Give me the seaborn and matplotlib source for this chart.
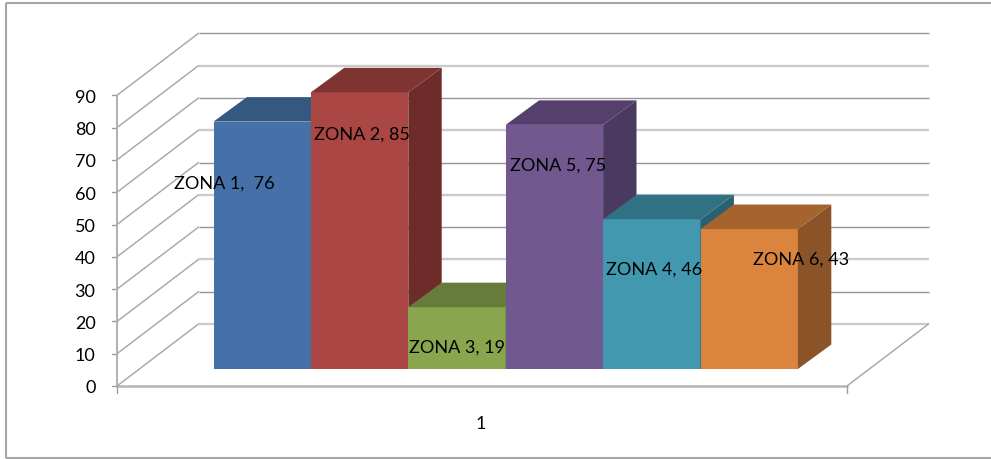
import pandas as pd
import matplotlib
matplotlib.use("Agg")
import matplotlib.pyplot as plt
from matplotlib.patches import Polygon
import seaborn as sns

# values in the order the bars stand in the chart
zonas = ["ZONA 1", "ZONA 2", "ZONA 3", "ZONA 5", "ZONA 4", "ZONA 6"]
valores = [76, 85, 19, 75, 46, 43]
etiquetas = ["ZONA 1,  76", "ZONA 2, 85", "ZONA 3, 19", "ZONA 5, 75", "ZONA 4, 46", "ZONA 6, 43"]
y_ticks = [0, 10, 20, 30, 40, 50, 60, 70, 80, 90]
categoria = "1"

colores_frente = ["#4571A8", "#AA4643", "#89A54E", "#71588F", "#4198AF", "#DB843D"]
colores_arriba = ["#34587F", "#803432", "#677C3A", "#553F6C", "#317184", "#A5632D"]
colores_lado = ["#2C4A6C", "#6D2C2A", "#576932", "#4A3A5F", "#2A6171", "#8A5428"]

# pixel geometry of the fake 3D box, measured on the reference
W, H = 991, 460
BAR_W = 97.4
BAR0_CENTER = 262.2
BASE_PX = 370
PX_PER_UNIT = 3.255
WALL_PX_PER_UNIT = 3.23
AXIS_X, AXIS_Y0 = 117, 387
RIGHT_X = 847
DEPTH_X, DEPTH_Y = 81.5, 62
BAR_DX, BAR_DY = 33.4, 24.5


def xd(px):
    return (px - BAR0_CENTER) / BAR_W


def yd(py):
    return (BASE_PX - py) / PX_PER_UNIT


sns.set_theme(style="white")
plt.rcParams["font.family"] = ["Lato", "DejaVu Sans"]

fig = plt.figure(figsize=(W / 100, H / 100), dpi=100)
ax = fig.add_axes([0, 0, 1, 1])

df = pd.DataFrame({"zona": zonas, "valor": valores})
sns.barplot(data=df, x="zona", y="valor", hue="zona", order=zonas, hue_order=zonas,
            palette=colores_frente, saturation=1, width=1, legend=False, ax=ax)

ax.set_xlim(xd(0), xd(W))
ax.set_ylim(yd(H), yd(0))
ax.axis("off")

# outer frame, open on the right
frame = dict(color="#a6a6a6", lw=1.5, zorder=1, solid_capstyle="butt")
ax.plot([xd(6), xd(6)], [yd(4), yd(459)], **frame)
ax.plot([xd(6), xd(W)], [yd(4), yd(4)], **frame)
ax.plot([xd(6), xd(W)], [yd(459), yd(459)], **frame)

# walls: gridlines run along the side and along the back
for t in y_ticks:
    py = AXIS_Y0 - t * WALL_PX_PER_UNIT
    px_back, py_back = AXIS_X + DEPTH_X, py - DEPTH_Y
    ax.plot([xd(AXIS_X), xd(px_back)], [yd(py), yd(py_back)], color="#ababab", lw=1.1, zorder=2)
    if t % 20 == 0:
        ax.plot([xd(px_back), xd(RIGHT_X + DEPTH_X)], [yd(py_back), yd(py_back)],
                color="#cbcbcb", lw=1.7, zorder=2, solid_capstyle="butt")
    else:
        ax.plot([xd(px_back), xd(RIGHT_X + DEPTH_X)], [yd(py_back), yd(py_back)],
                color="#959595", lw=1.0, zorder=2, solid_capstyle="butt")
    ax.plot([xd(AXIS_X - 5), xd(AXIS_X)], [yd(py), yd(py)], color="#9a9a9a", lw=1.0, zorder=3)
    ax.text(xd(95.5), yd(py), str(t), ha="right", va="center_baseline", fontsize=13, color="black")

# front edge of the floor, its right edge, and the axis lines
ax.plot([xd(AXIS_X), xd(RIGHT_X)], [yd(AXIS_Y0), yd(AXIS_Y0)], color="#b5b5b5", lw=1.8, zorder=3)
ax.plot([xd(RIGHT_X), xd(RIGHT_X + DEPTH_X)], [yd(AXIS_Y0), yd(AXIS_Y0 - DEPTH_Y)],
        color="#ababab", lw=1.1, zorder=2)
ax.plot([xd(AXIS_X), xd(AXIS_X)], [yd(AXIS_Y0), yd(AXIS_Y0 - 90 * WALL_PX_PER_UNIT)],
        color="#b0b0b0", lw=1.4, zorder=3)
for px in [AXIS_X, RIGHT_X]:
    ax.plot([xd(px), xd(px)], [yd(AXIS_Y0), yd(AXIS_Y0 + 7)], color="#9a9a9a", lw=1.0, zorder=3)
ax.text(xd(481), yd(423), categoria, ha="center", va="center_baseline", fontsize=13, color="black")

# side and top faces, painted left to right on top of each other
dx = BAR_DX / BAR_W
dy = BAR_DY / PX_PER_UNIT
bars = [p for c in ax.containers for p in c]
for i, (bar, val) in enumerate(zip(bars, valores)):
    x0 = bar.get_x()
    x1 = x0 + bar.get_width()
    z = 10 + i
    bar.set_zorder(z)
    bar.set_edgecolor("none")
    ax.add_patch(Polygon([(x1, 0), (x1 + dx, dy), (x1 + dx, val + dy), (x1, val)],
                         closed=True, fc=colores_lado[i], ec="none", zorder=z))
    ax.add_patch(Polygon([(x0, val), (x0 + dx, val + dy), (x1 + dx, val + dy), (x1, val)],
                         closed=True, fc=colores_arriba[i], ec="none", zorder=z))

# data labels sit where they were dragged to in the original: offset from bar centre, height in units
label_dx = [-0.387, 0.025, 0.0, 0.037, 0.023, 0.532]
label_y = [57.8, 72.8, 7.4, 63.3, 31.3, 34.4]
for i, txt in enumerate(etiquetas):
    ax.text(i + label_dx[i], label_y[i], txt, ha="center", va="center_baseline",
            fontsize=13, color="black", zorder=30)

fig.savefig("out.png", dpi=100, facecolor="white")
plt.close(fig)
